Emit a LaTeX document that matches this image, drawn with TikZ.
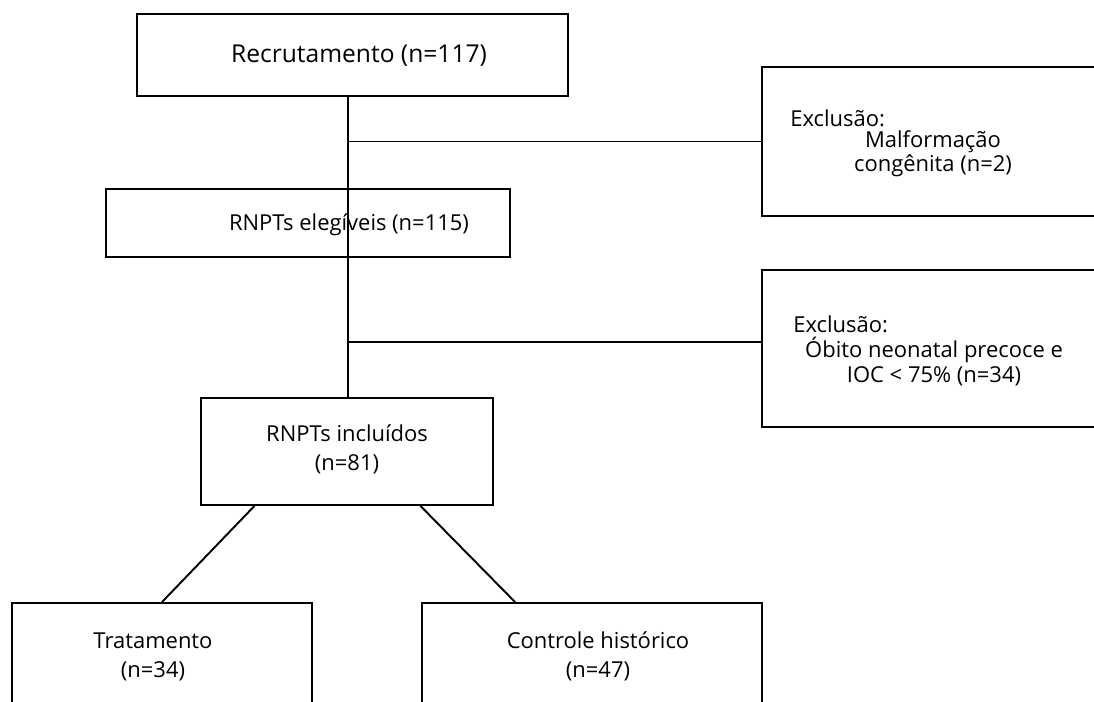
\documentclass[tikz,border=0pt]{standalone}
\usepackage{fontspec}
\setmainfont{Open Sans}
\usetikzlibrary{calc}

\begin{document}
\begin{tikzpicture}[x=0.02cm,y=-0.02cm,line cap=butt,
  box/.style={draw,line width=1.1pt,inner sep=0pt,rectangle},
  txt/.style={inner sep=0pt,anchor=base,align=center,font=\fontsize{12.5}{14.2}\selectfont},
  wide/.style={font=\fontsize{12.5}{16}\selectfont},
  ln/.style={line width=1.1pt}]
  \clip (0,0) rectangle (1094,702);
  % caixas principais
  \node[box,minimum width=8.62cm,minimum height=1.64cm] (recr) at (352.5,55) {};
  \node[box,minimum width=8.08cm,minimum height=1.36cm] (eleg) at (308,223) {};
  \node[box,minimum width=5.84cm,minimum height=2.14cm] (incl) at (347,451.5) {};
  % caixas de exclusao (cortadas na margem direita)
  \node[box,minimum width=8cm,minimum height=2.98cm] (exclA) at (962,141.5) {};
  \node[box,minimum width=8cm,minimum height=3.14cm] (exclB) at (962,348.5) {};
  % grupos (cortados na margem inferior)
  \node[box,minimum width=6cm,minimum height=3.14cm] (trat) at (162,681.5) {};
  \node[box,minimum width=6.8cm,minimum height=3.14cm] (ctrl) at (592,681.5) {};
  % textos (base = ultima linha)
  \node[txt,font=\fontsize{14}{17}\selectfont] (tRecr) at (359,63) {Recrutamento (n=117)};
  \node[txt] (tEleg) at (349,231) {RNPTs elegíveis (n=115)};
  \node[txt,wide] (tIncl) at (347,470) {RNPTs incluídos\\(n=81)};
  \node[txt,anchor=base west] (tExA) at (790,127) {Exclusão:};
  \node[txt] (tExA2) at (933,172) {Malformação\\congênita (n=2)};
  \node[txt,anchor=base west] (tExB) at (793,332) {Exclusão:};
  \node[txt] (tExB2) at (934,382) {Óbito neonatal precoce e\\IOC < 75\% (n=34)};
  \node[txt,wide] (tTrat) at (153,677) {Tratamento\\(n=34)};
  \node[txt,wide] (tCtrl) at (598,677) {Controle histórico\\(n=47)};
  % ligacoes
  \coordinate (spine) at (348,0);
  \draw[ln] (recr.south -| spine) -- (incl.north -| spine);
  \draw[ln] (spine |- exclA.west) -- (exclA.west);
  \draw[ln] (spine |- 342,342) -- (exclB.west |- 342,342);
  \draw[ln] ($(incl.south west)!0.185!(incl.south east)$) -- (trat.north);
  \draw[ln] ($(incl.south west)!0.75!(incl.south east)$) -- ($(ctrl.north west)!0.275!(ctrl.north east)$);
\end{tikzpicture}
\end{document}
